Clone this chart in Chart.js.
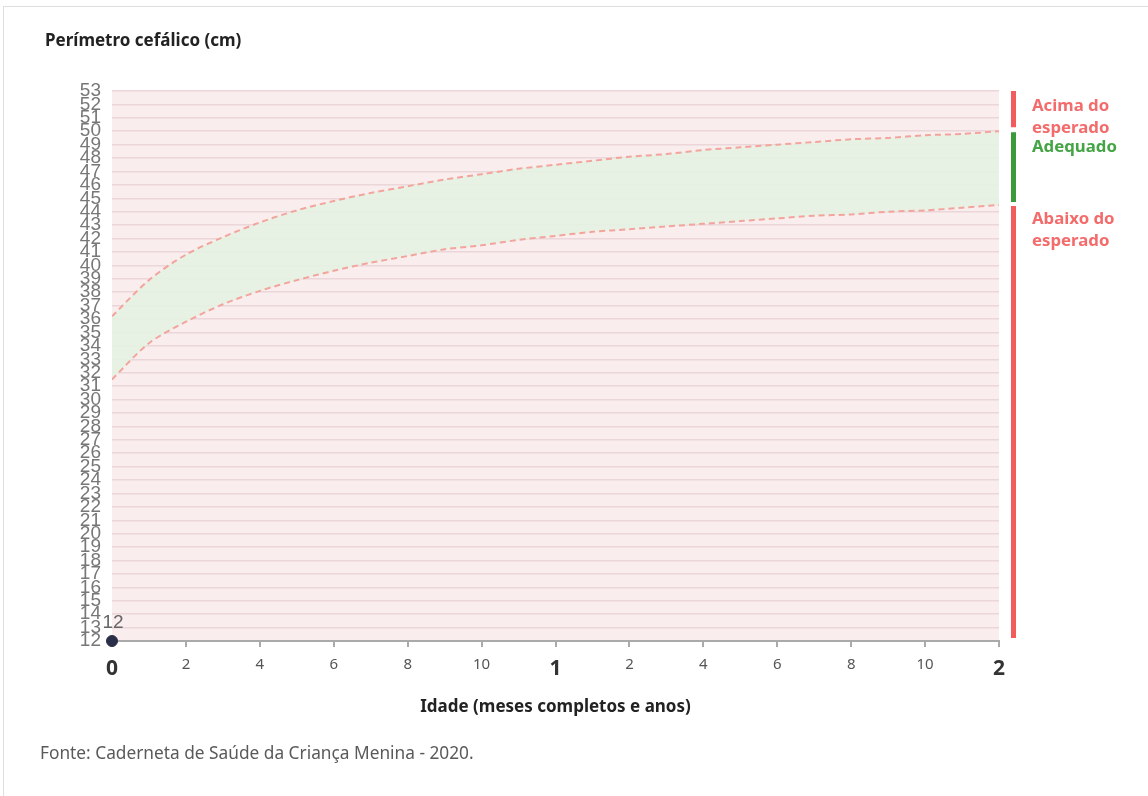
<!DOCTYPE html>
<html><head><meta charset="utf-8">
<script src="https://cdn.jsdelivr.net/npm/chart.js@4"></script>
<style>
html,body{margin:0;padding:0;background:#fff;width:1148px;height:796px;overflow:hidden;}
#frame{position:absolute;left:3px;top:6px;width:1170px;height:820px;border-top:1px solid #dedede;border-left:1px solid #dedede;}
#wrap{position:absolute;left:0;top:0;width:1148px;height:796px;}
#title{position:absolute;left:45px;top:29px;font:bold 17px 'Noto Sans';color:#222;line-height:22px;}
#src{position:absolute;left:40px;top:742px;font:17.3px 'Noto Sans';color:#5a5a5a;line-height:22px;}
</style></head>
<body>
<div id="frame"></div>
<div id="wrap"><canvas id="c" width="1148" height="796"></canvas></div>
<div id="title">Perímetro cefálico (cm)</div>
<div id="src">Fonte: Caderneta de Saúde da Criança Menina - 2020.</div>
<script>
// ---- data ----
const months = [0,1,2,3,4,5,6,7,8,9,10,11,12,13,14,15,16,17,18,19,20,21,22,23,24];
const upperCurve = [36.2,38.9,40.8,42.1,43.2,44.1,44.8,45.4,45.9,46.4,46.8,47.2,47.5,47.8,48.1,48.3,48.6,48.8,49.0,49.2,49.4,49.5,49.7,49.8,50.0];
const lowerCurve = [31.5,34.2,35.8,37.1,38.1,38.9,39.6,40.2,40.7,41.2,41.5,41.9,42.2,42.5,42.7,42.9,43.1,43.3,43.5,43.7,43.8,44.0,44.1,44.3,44.5];
const pointX = [0];
const pointY = [12];
const xTickValues = [0,2,4,6,8,10,12,14,16,18,20,22,24];
const xTickLabels = ['0','2','4','6','8','10','1','2','4','6','8','10','2'];
const yMin = 12, yMax = 53;
const bandLabels = [['Acima do','esperado'],['Adequado'],['Abaixo do','esperado']];

const upperData = months.map((m,i)=>({x:m,y:upperCurve[i]}));
const lowerData = months.map((m,i)=>({x:m,y:lowerCurve[i]}));
const pointData = pointX.map((x,i)=>({x:x,y:pointY[i]}));

const bgPlugin = {
  id:'bg',
  beforeDraw(chart){
    const {ctx, chartArea:a} = chart;
    ctx.save(); ctx.fillStyle='#f9eded';
    ctx.fillRect(a.left,a.top,a.right-a.left,a.bottom-a.top);
    ctx.restore();
  }
};
const sidePlugin = {
  id:'side',
  afterDraw(chart){
    const {ctx, chartArea:a} = chart;
    const y = chart.scales.y;
    const top = y.getPixelForValue(yMax);
    const bottom = y.getPixelForValue(yMin);
    const uEnd = y.getPixelForValue(upperCurve[upperCurve.length-1]);
    const lEnd = y.getPixelForValue(lowerCurve[lowerCurve.length-1]);
    const bx = a.right + 12, bw = 5;
    ctx.save();
    ctx.fillStyle='#f25c5c'; ctx.fillRect(bx, top, bw, (uEnd-4)-top);
    ctx.fillStyle='#3b9b3b'; ctx.fillRect(bx, uEnd+1, bw, (lEnd-3)-(uEnd+1));
    ctx.fillStyle='#f25c5c'; ctx.fillRect(bx, lEnd+1, bw, (bottom-3)-(lEnd+1));
    ctx.font="bold 16.8px 'Noto Sans'"; ctx.textAlign='left'; ctx.textBaseline='middle';
    const tx = bx + 21;
    ctx.fillStyle='#f36b6b';
    bandLabels[0].forEach((t,i)=>ctx.fillText(t, tx, top+15+i*22));
    ctx.fillStyle='#45a445';
    bandLabels[1].forEach((t,i)=>ctx.fillText(t, tx, uEnd+16+i*22));
    ctx.fillStyle='#f36b6b';
    bandLabels[2].forEach((t,i)=>ctx.fillText(t, tx, lEnd+14+i*22));
    ctx.restore();
  }
};
const ptLabelPlugin = {
  id:'ptlabel',
  afterDatasetsDraw(chart){
    const {ctx} = chart;
    const meta = chart.getDatasetMeta(2);
    ctx.save();
    ctx.font="19px 'Liberation Sans'"; ctx.fillStyle='#666'; ctx.textAlign='center'; ctx.textBaseline='middle';
    meta.data.forEach((el,i)=>{ ctx.fillText(String(pointY[i]), el.x+1, el.y-18); });
    ctx.restore();
  }
};

new Chart(document.getElementById('c'), {
  type:'line',
  data:{ datasets:[
    { data:upperData, borderColor:'#f3a49d', borderWidth:2, borderDash:[6,4], pointRadius:0, fill:'+1', backgroundColor:'rgba(228,243,226,0.88)', tension:0.3 },
    { data:lowerData, borderColor:'#f3a49d', borderWidth:2, borderDash:[6,4], pointRadius:0, fill:false, tension:0.3 },
    { data:pointData, showLine:false, pointRadius:5.5, pointBackgroundColor:'#2b2e48', pointBorderColor:'#2b2e48', clip:false }
  ]},
  options:{
    responsive:false, animation:false, devicePixelRatio:1,
    layout:{ padding:{ left:0, top:91, right:149, bottom:79 } },
    plugins:{ legend:{display:false}, tooltip:{enabled:false}, filler:{ drawTime:'beforeDatasetsDraw' } },
    scales:{
      x:{
        type:'linear', min:0, max:24,
        afterFit(s){ s.height = 76; },
        border:{ display:true, color:'#aaa', width:2 },
        grid:{ drawOnChartArea:false, drawTicks:true, tickLength:6, color:'#aaa', lineWidth:2 },
        afterBuildTicks(s){ s.ticks = xTickValues.map(v=>({value:v})); },
        ticks:{
          autoSkip:false, maxRotation:0, padding:9,
          callback:(v)=>xTickLabels[xTickValues.indexOf(v)],
          font:(c)=> (c.tick && c.tick.value%12===0) ? {family:"'Noto Sans'", size:21, weight:'bold'} : {family:"'Noto Sans'", size:15},
          color:(c)=> (c.tick && c.tick.value%12===0) ? '#333' : '#555'
        },
        title:{ display:true, text:'Idade (meses completos e anos)', color:'#222', font:{family:"'Noto Sans'", size:17, weight:'bold'}, padding:{top:0,bottom:0} }
      },
      y:{
        min:yMin, max:yMax,
        afterFit(s){ s.width = 112; },
        border:{ display:false },
        grid:{ color:'#ebd6d9', lineWidth:1.5, drawTicks:false },
        ticks:{ stepSize:1, autoSkip:false, padding:11, color:'#777', font:{family:"'Liberation Sans'", size:19} }
      }
    }
  },
  plugins:[bgPlugin, sidePlugin, ptLabelPlugin]
});
</script>
</body></html>
